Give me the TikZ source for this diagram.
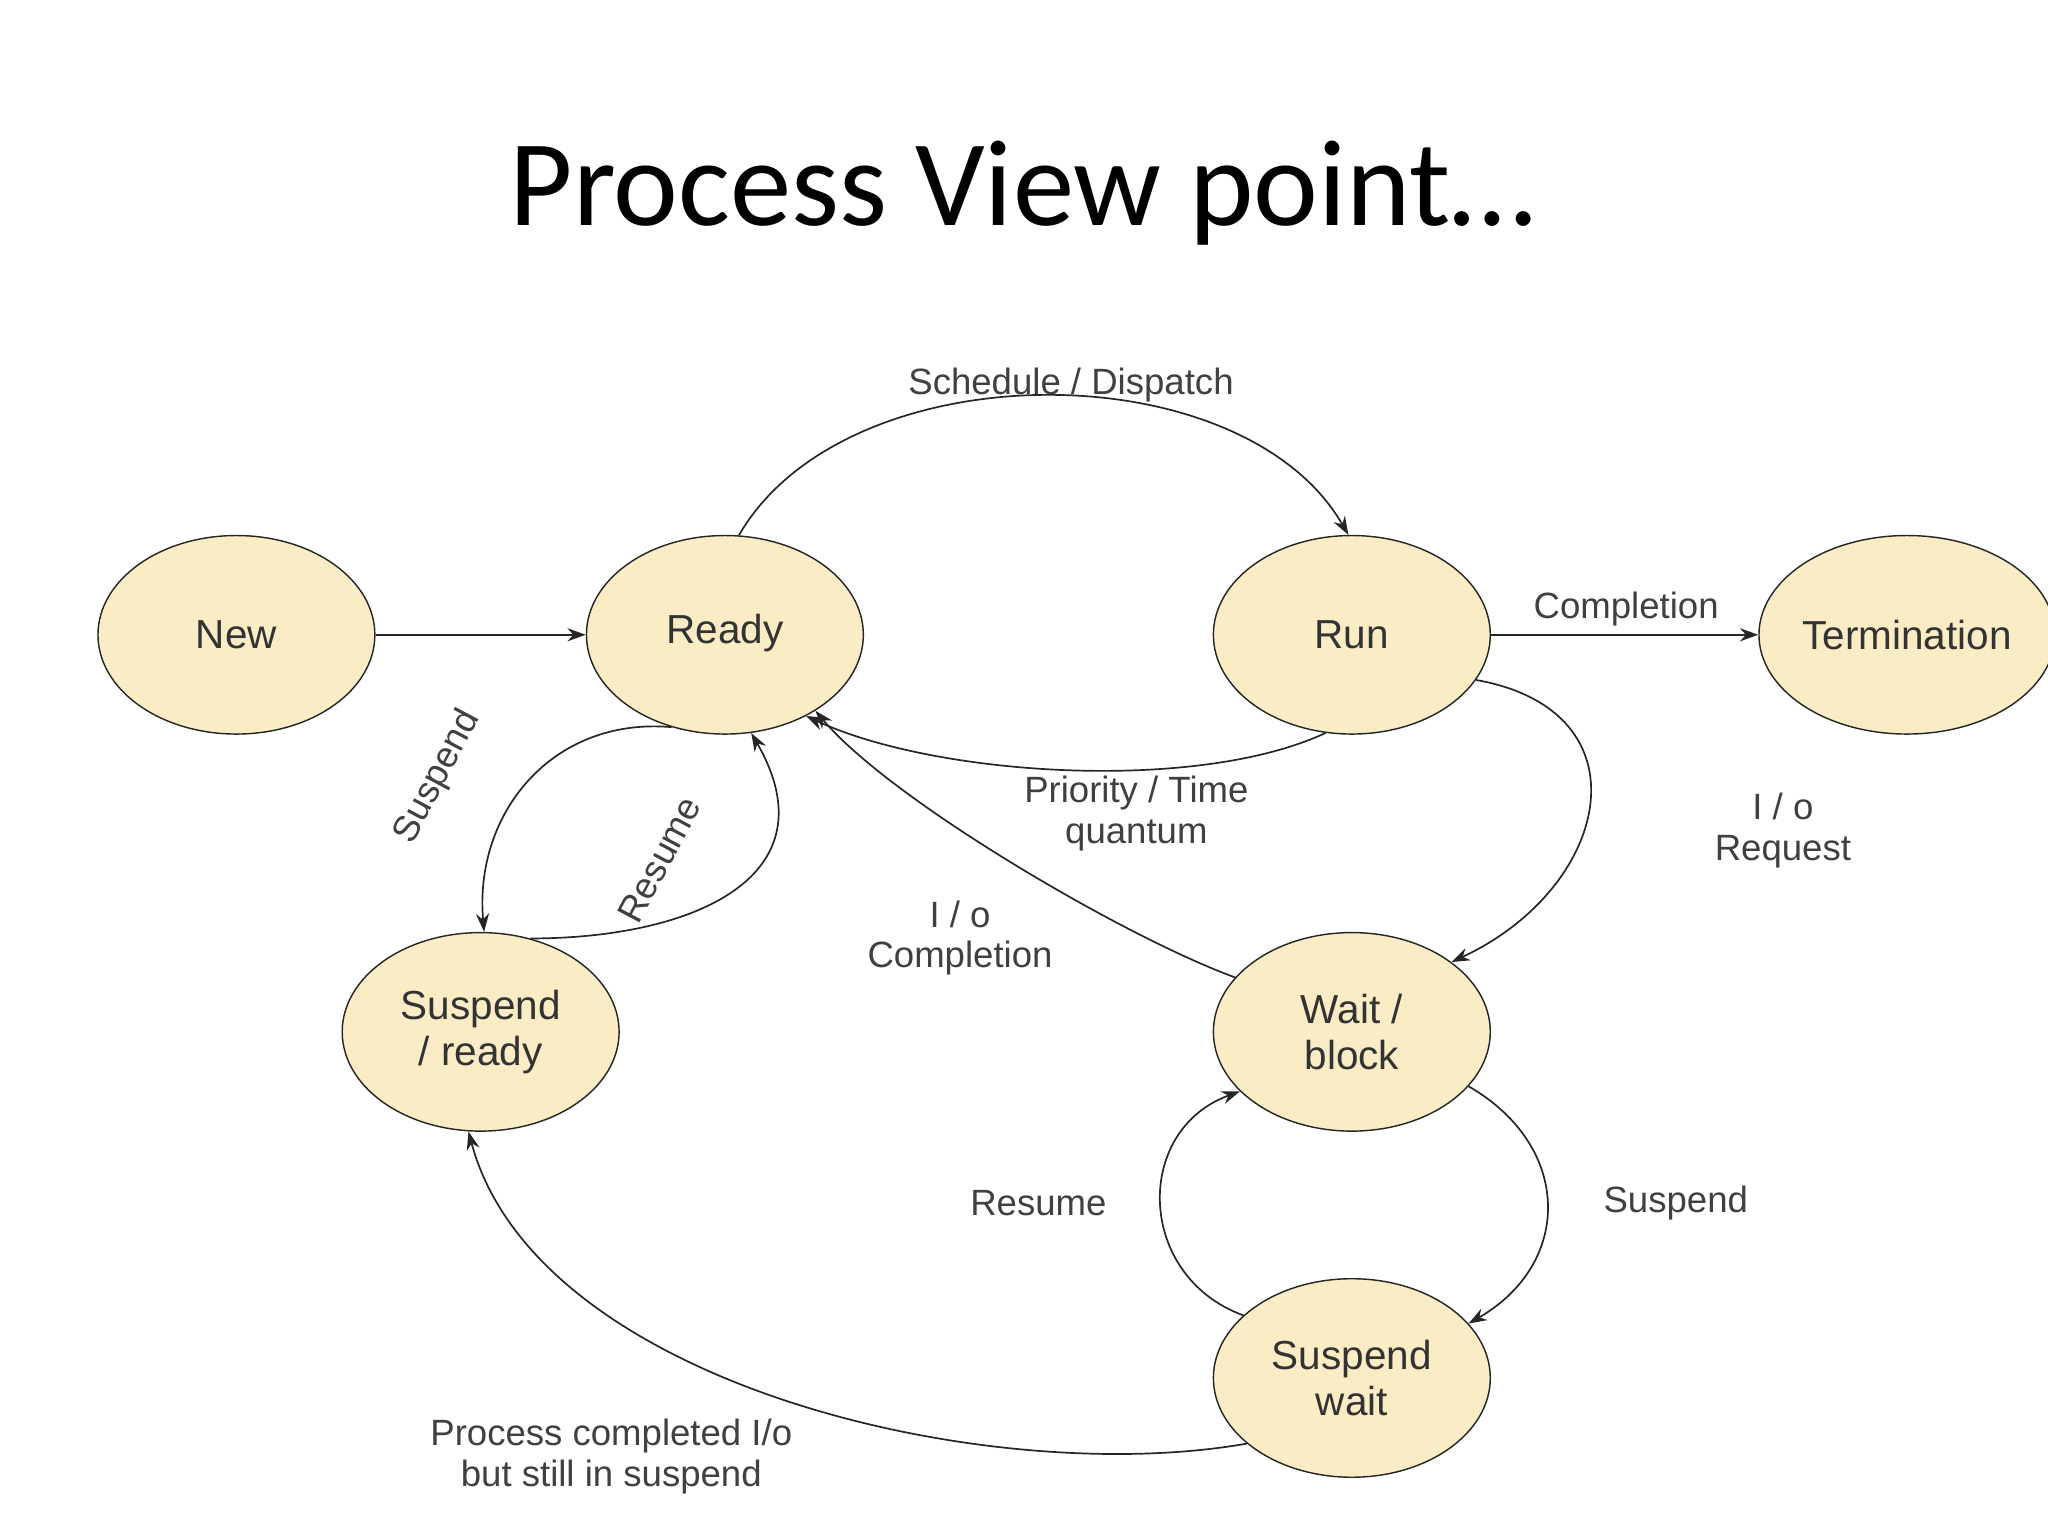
\documentclass[tikz,border=0pt]{standalone}
\usepackage{fontspec}
\setmainfont{Liberation Sans}
\newfontfamily\titlefont{Carlito}
\usetikzlibrary{shapes.geometric,arrows.meta}

\tikzset{
  state/.style={ellipse,draw=black!85,line width=1.1pt,fill={rgb,255:red,250;green,236;blue,196},
    minimum width=212pt,minimum height=152pt,inner sep=0pt,align=center,
    font=\fontsize{31}{35}\selectfont,text=black!80},
  trans/.style={-{Stealth[length=14pt,width=10pt]},line width=1.3pt,black!85},
  lbl/.style={font=\fontsize{28}{31}\selectfont,text=black!75,align=center}
}

\begin{document}
\begin{tikzpicture}[x=1pt,y=-1pt]
\useasboundingbox (0,0) rectangle (1568,1176);

% title
\node (title) at (783,148) {\titlefont\fontsize{94}{100}\selectfont Process View point…};

% states
\node[state] (new) at (181,486) {New};
\node[state] (ready) at (555,486) {\strut Ready};
\node[state] (run) at (1035,486) {Run};
\node[state] (term) at (1460,486) {Termination};
\node[state] (sready) at (368,790) {Suspend\\/ ready};
\node[state] (wait) at (1035,790) {Wait /\\block};
\node[state] (swait) at (1035,1055) {Suspend\\wait};

% transitions
\draw[trans] (new) -- (ready);
\draw[trans] (ready.82) to[out=60,in=120,looseness=0.9] (run.92);
\draw[trans] (run.east) -- (term.west);
\draw[trans] (run.-105) to[out=-155,in=-25,looseness=0.7] (ready.-45);
\draw[trans] (run.-20) to[out=-10,in=25,looseness=1.6] (wait.35);
\draw[trans] (wait.155) to[out=160,in=-50,looseness=0.6] (ready.-40);
\draw[trans] (ready.-120) to[out=175,in=95,looseness=1.1] (sready.88);
\draw[trans] (sready.62) to[out=0,in=-60,looseness=1.4] (ready.-75);
\draw[trans] (wait.-25) to[out=-30,in=30,looseness=1.3] (swait.25);
\draw[trans] (swait.150) to[out=160,in=-160,looseness=1.3] (wait.-152);
\draw[trans] (swait.-148) to[out=-170,in=-75,looseness=0.8] (sready.-97);

% labels
\node[lbl] (l1) at (820,295) {Schedule / Dispatch};
\node[lbl] (l2) at (1245,466) {Completion};
\node[lbl] (l3) at (870,623) {Priority / Time\\quantum};
\node[lbl] (l4) at (1365,636) {I / o\\Request};
\node[lbl] (l5) at (735,718) {I / o\\Completion};
\node[lbl,rotate=62] (l6) at (335,595) {Suspend};
\node[lbl,rotate=62] (l7) at (505,658) {Resume};
\node[lbl] (l8) at (1283,921) {Suspend};
\node[lbl] (l9) at (795,921) {Resume};
\node[lbl] (l10) at (468,1115) {Process completed I/o\\but still in suspend};
\end{tikzpicture}
\end{document}
